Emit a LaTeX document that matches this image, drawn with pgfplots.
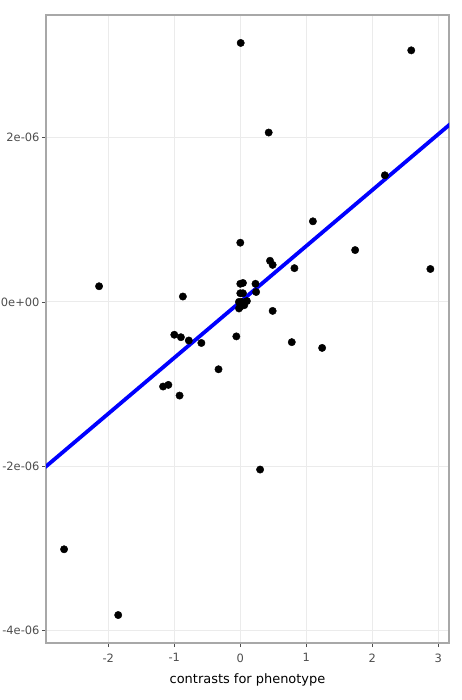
\documentclass[border=0pt]{standalone}
\usepackage{fontspec}
\setmainfont{DejaVu Sans}
\usepackage{pgfplots}
\pgfplotsset{compat=1.18}
\definecolor{tickgray}{HTML}{4D4D4D}
\definecolor{bordergray}{HTML}{A8A8A8}
\definecolor{gridgray}{HTML}{EBEBEB}
\begin{document}
\begin{tikzpicture}
\begin{pgfinterruptboundingbox}
\begin{axis}[
  name=ax,
  scale only axis,
  width=403bp, height=628bp,
  xmin=-2.944, xmax=3.162,
  ymin=-4.15, ymax=3.49,
  xtick={-2,-1,0,1,2,3},
  ytick={-4,-2,0,2},
  yticklabels={-4e-06,-2e-06,0e+00,2e-06},
  grid=major,
  major grid style={gridgray, line width=0.8bp},
  axis line style={bordergray, line width=1.1bp},
  tick style={tickgray, line width=0.6bp},
  tick align=outside,
  major tick length=4bp,
  xtick pos=bottom, ytick pos=left,
  /pgf/number format/assume math mode=true,
  tick label style={font=\fontsize{11.5}{13}\selectfont, text=tickgray},
  xticklabel style={yshift=-3bp},
  yticklabel style={xshift=1bp},
  xlabel={contrasts for phenotype},
  xlabel style={font=\fontsize{13}{15}\selectfont, text=black, yshift=-5bp},
  clip=true,
]
\addplot[only marks, mark=*, mark size=3.7bp, black] coordinates {
(0.006,3.15) (2.59,3.06) (0.43,2.06) (2.19,1.54) (1.10,0.98)
(0.00,0.72) (1.74,0.63) (0.45,0.50) (0.49,0.45) (0.82,0.41) (2.88,0.40)
(-2.14,0.19) (0.00,0.22) (0.04,0.23) (0.23,0.22) (0.00,0.105) (0.04,0.105)
(0.24,0.12) (-0.87,0.065)
(-0.02,0.00) (0.02,0.00) (0.10,0.01) (0.06,-0.04) (0.00,-0.06) (-0.02,-0.08)
(0.49,-0.11) (-1.00,-0.40) (-0.90,-0.43) (-0.78,-0.47) (-0.59,-0.50)
(-0.06,-0.42) (0.78,-0.49) (1.24,-0.56) (-0.33,-0.82)
(-1.17,-1.03) (-1.09,-1.01) (-0.92,-1.14)
(0.30,-2.04) (-2.67,-3.01) (-1.85,-3.81)
};
\addplot[blue, line width=3.8bp] coordinates {(-3.0,-2.04) (3.3,2.244)};
\end{axis}
\end{pgfinterruptboundingbox}
\path[use as bounding box] ([xshift=-46bp,yshift=-57bp]ax.south west) rectangle ([xshift=13bp,yshift=15bp]ax.north east);
\end{tikzpicture}
\end{document}
